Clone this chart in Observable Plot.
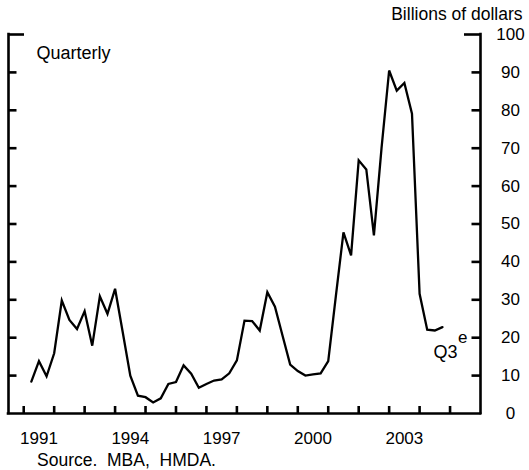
<!DOCTYPE html>
<html><head><meta charset="utf-8">
<script src="https://cdn.jsdelivr.net/npm/d3@7"></script>
<script src="https://cdn.jsdelivr.net/npm/@observablehq/plot@0.6"></script>
<style>
body{margin:0;background:#fff;}
#chart svg{display:block;}
</style></head><body><div id="chart"></div>
<script>
// ---- data ----
const periods = [
  "1991:Q1","1991:Q2","1991:Q3","1991:Q4",
  "1992:Q1","1992:Q2","1992:Q3","1992:Q4",
  "1993:Q1","1993:Q2","1993:Q3","1993:Q4",
  "1994:Q1","1994:Q2","1994:Q3","1994:Q4",
  "1995:Q1","1995:Q2","1995:Q3","1995:Q4",
  "1996:Q1","1996:Q2","1996:Q3","1996:Q4",
  "1997:Q1","1997:Q2","1997:Q3","1997:Q4",
  "1998:Q1","1998:Q2","1998:Q3","1998:Q4",
  "1999:Q1","1999:Q2","1999:Q3","1999:Q4",
  "2000:Q1","2000:Q2","2000:Q3","2000:Q4",
  "2001:Q1","2001:Q2","2001:Q3","2001:Q4",
  "2002:Q1","2002:Q2","2002:Q3","2002:Q4",
  "2003:Q1","2003:Q2","2003:Q3","2003:Q4",
  "2004:Q1","2004:Q2","2004:Q3"
];
const values = [
  8.4, 13.8, 9.8, 15.9,
  29.8, 24.7, 22.3, 27.0,
  17.9, 30.9, 26.3, 32.9,
  21.5, 10.0, 4.7, 4.3,
  2.9, 4.0, 7.8, 8.3,
  12.7, 10.5, 6.8, 7.8,
  8.7, 9.0, 10.6, 14.0,
  24.5, 24.4, 21.9, 32.0,
  28.2, 20.5, 12.9, 11.2,
  10.0, 10.3, 10.6, 13.8,
  31.0, 47.8, 41.7, 66.8,
  64.4, 47.0, 70.0, 90.5,
  85.2, 87.2, 79.1, 31.6,
  22.1, 21.9, 22.8
];
const yTicks = [0, 10, 20, 30, 40, 50, 60, 70, 80, 90, 100];
const yTickLabels = ["0", "10", "20", "30", "40", "50", "60", "70", "80", "90", "100"];
const tickYears = [1991, 1992, 1993, 1994, 1995, 1996, 1997, 1998, 1999, 2000, 2001, 2002, 2003, 2004, 2005];
const labelYears = [1991, 1994, 1997, 2000, 2003];
const xDomain = [1990.5, 2006];
const yDomain = [0, 100];
const unitLabel = "Billions of dollars";
const seriesLabel = "Quarterly";
const lastLabel = "Q3";
const lastLabelSup = "e";
const sourceNote = "Source.\u00a0\u00a0MBA,\u00a0\u00a0HMDA.";

// ---- build table ----
const data = periods.map((p, i) => {
  const [yr, q] = p.split(":Q").map(Number);
  return {t: yr + q / 4, v: values[i]};
});
const last = data[data.length - 1];

const W = 529, H = 470, mL = 8, mR = 49, mT = 34, mB = 57;
const font = "'Liberation Sans', Arial, Helvetica, sans-serif";
const sw = 2.6;
const ink = "#000";
// pixel lengths of the inward ticks, converted to data units
const pxX = (xDomain[1] - xDomain[0]) / (W - mL - mR);
const pxY = (yDomain[1] - yDomain[0]) / (H - mT - mB);
const shortTick = 8.5, longTick = 16, xTick = 7;
const yTickRows = yTicks.filter(d => d > yDomain[0]).map(d => ({v: d, len: d === yDomain[1] ? longTick : shortTick}));

const chart = Plot.plot({
  width: W, height: H,
  marginLeft: mL, marginRight: mR, marginTop: mT, marginBottom: mB,
  style: {fontFamily: font, fontSize: "17px", background: "#fff", color: ink, overflow: "visible"},
  x: {domain: xDomain, axis: null},
  y: {domain: yDomain, axis: null},
  marks: [
    // frame: left, right, bottom
    Plot.ruleX(xDomain, {stroke: ink, strokeWidth: sw, strokeLinecap: "square"}),
    Plot.ruleY([yDomain[0]], {stroke: ink, strokeWidth: sw, strokeLinecap: "square"}),
    // inward ticks on the left and right
    Plot.ruleY(yTickRows, {y: "v", x1: () => xDomain[0], x2: d => xDomain[0] + d.len * pxX, stroke: ink, strokeWidth: sw}),
    Plot.ruleY(yTickRows, {y: "v", x1: () => xDomain[1], x2: d => xDomain[1] - d.len * pxX, stroke: ink, strokeWidth: sw}),
    // inward ticks at the bottom
    Plot.ruleX(tickYears, {x: d => d, y1: () => yDomain[0], y2: () => yDomain[0] + xTick * pxY, stroke: ink, strokeWidth: sw}),
    // right axis labels
    Plot.axisY(yTicks, {anchor: "right", tickSize: 0, tickPadding: 30, textAnchor: "middle", fontSize: 17,
      tickFormat: d => yTickLabels[yTicks.indexOf(d)], label: null}),
    // bottom axis labels (centered in the year)
    Plot.axisX(labelYears.map(y => y + 0.5), {anchor: "bottom", tickSize: 0, tickPadding: 18, fontSize: 17,
      tickFormat: d => String(labelYears[labelYears.indexOf(d - 0.5)]), label: null}),
    // series
    Plot.line(data, {x: "t", y: "v", stroke: ink, strokeWidth: 2.3, strokeLinejoin: "miter", strokeMiterlimit: 4}),
    // annotations
    Plot.text([unitLabel], {frameAnchor: "top-right", textAnchor: "end", lineAnchor: "bottom", dx: 42, dy: -15, fontSize: 17.5, fill: ink}),
    Plot.text([seriesLabel], {frameAnchor: "top-left", textAnchor: "start", lineAnchor: "bottom", dx: 28, dy: 24, fontSize: 18, fill: ink}),
    Plot.text([sourceNote], {frameAnchor: "bottom-left", textAnchor: "start", lineAnchor: "bottom", dx: 28.5, dy: 52, fontSize: 17.5, fill: ink}),
    Plot.text([last], {x: "t", y: "v", text: () => lastLabel, textAnchor: "end", lineAnchor: "bottom", dx: 15, dy: 31, fontSize: 18, fill: ink}),
    Plot.text([last], {x: "t", y: "v", text: () => lastLabelSup, textAnchor: "start", lineAnchor: "bottom", dx: 15.5, dy: 16, fontSize: 17, fill: ink})
  ]
});
document.getElementById("chart").appendChild(chart);
</script>
</body></html>
